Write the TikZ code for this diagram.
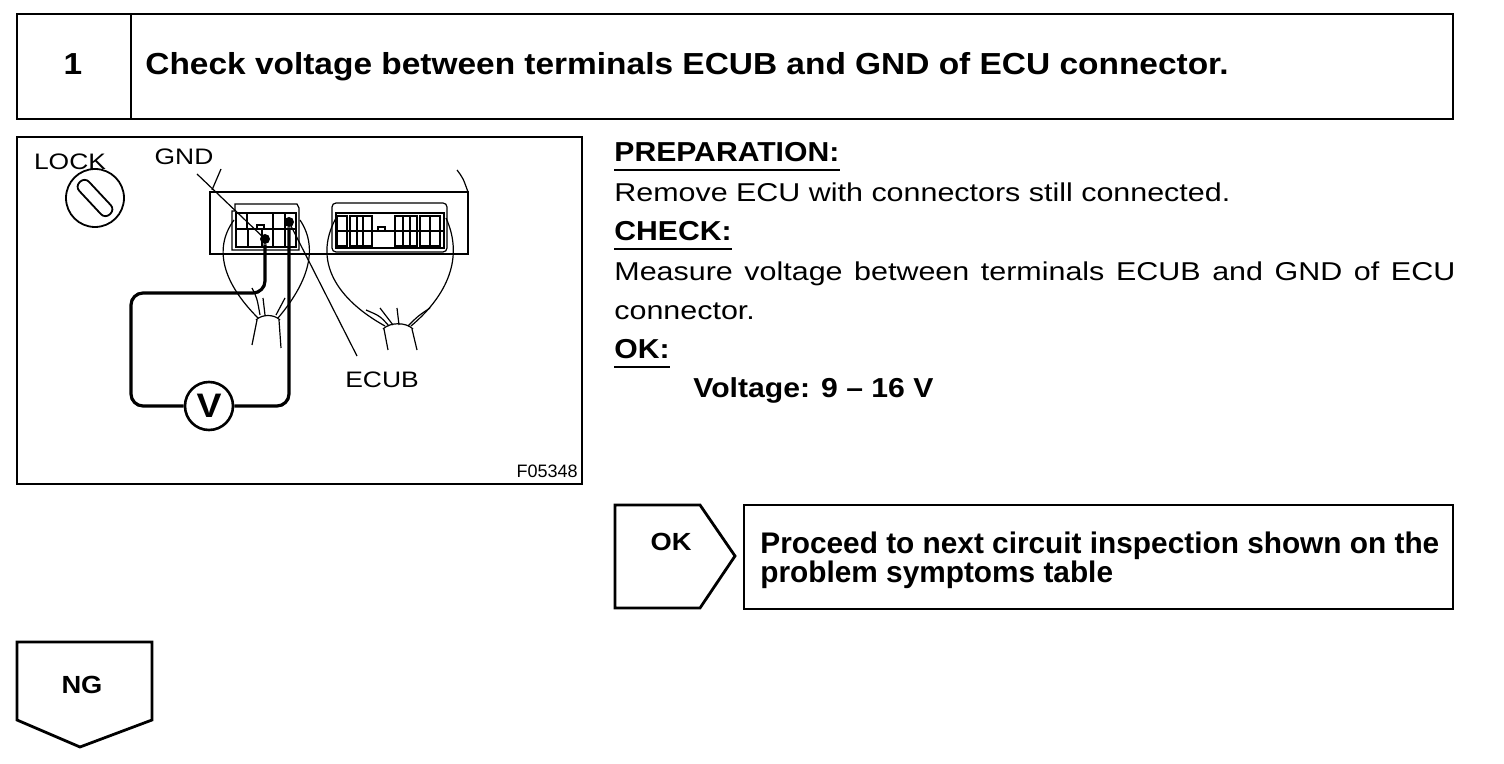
\documentclass[tikz,border=0pt]{standalone}
\usepackage{fontspec}
\setmainfont{Liberation Sans}
\newfontfamily\widefont[FakeStretch=1.18]{Liberation Sans}
\newfontfamily\headfont[FakeStretch=1.1]{Liberation Sans}

\begin{document}
\begin{tikzpicture}[x=0.5pt,y=-0.5pt,
   frame/.style={draw,line width=1.4pt},
   box/.style={frame,inner sep=0pt,outer sep=0pt,anchor=north west},
   txt/.style={inner sep=0pt,anchor=base west,font=\widefont\fontsize{12.9}{15}\selectfont},
   head/.style={inner sep=0pt,anchor=base west,font=\headfont\bfseries\fontsize{#1}{#1}\selectfont},
   head/.default=13.7,
   lbl/.style={inner sep=0pt,anchor=base,font=\widefont\fontsize{11.2}{12}\selectfont},
   thin/.style={line width=0.6pt},
   wire/.style={line width=1.6pt,rounded corners=6pt},
   uline/.style={line width=0.9pt},
   pin/.style={circle,fill,inner sep=0pt,minimum size=5pt}]
   \useasboundingbox (0,0) rectangle (1504,764);
   % step header
   \node[box,minimum width=57pt,minimum height=52.5pt] (num) at (17,14) {};
   \node[box,minimum width=661pt,minimum height=52.5pt] (title) at (num.north east) {};
   \node[head=15.2,anchor=base] (numtxt) at (73,75) {1};
   \node[head=15.2] (titletxt) at (145,75) {Check voltage between terminals ECUB and GND of ECU connector.};
   % illustration
   \node[box,line width=1.2pt,minimum width=282.5pt,minimum height=173.5pt] (fig) at (17,137) {};
   \node[circle,draw,line width=0.9pt,minimum size=29pt] (lock) at (95,198) {};
   \node[draw,line width=0.9pt,rounded corners=3pt,minimum width=22pt,minimum height=6pt,rotate=-47] (key) at (lock) {};
   \node[lbl] (locklbl) at (70,170) {LOCK};
   \node[lbl] (gndlbl) at (184,165) {GND};
   \node[lbl] (ecublbl) at (382,387) {ECUB};
   \node[inner sep=0pt,anchor=base east,font=\fontsize{9}{9}\selectfont] (figno) at (578,477) {F05348};
   % ECU body
   \draw[thin] (210,192) rectangle (468,254);
   \draw[thin] (212,190) -- (221,169);
   \draw[thin] (457,170) .. controls (463,178) .. (468,192);
   % left connector
   \draw[thin] (235,204) -- (297,204) -- (299,208) -- (299,250) -- (232,250) -- (232,211) -- (235,211) -- cycle;
   \draw[thin] (236,213) rectangle (296,247);
   \draw[thin] (236,229) -- (296,229);
   \foreach \x in {248,262,273,285} \draw[thin] (\x,229) -- (\x,247);
   \foreach \x in {247,273,285} \draw[thin] (\x,213) -- (\x,229);
   \draw[thin] (257,225) rectangle (264,229);
   % right connector
   \draw[thin,rounded corners=2pt] (332,252) -- (332,203) -- (447,203) -- (447,252) -- cycle;
   \draw[thin] (336,213) rectangle (444,248);
   \foreach \a/\b in {337/347,350/372,395/417,420/440} \draw[thin] (\a,216) rectangle (\b,246);
   \foreach \x in {357,363,403,410,430} \draw[thin] (\x,216) -- (\x,246);
   \draw[thin] (336,231) -- (444,231);
   \draw[thin] (378,227) rectangle (385,231);
   % harnesses
   \draw[thin] (234,220) .. controls (212,250) and (225,285) .. (258,318);
   \draw[thin] (300,220) .. controls (320,250) and (306,285) .. (278,318);
   \draw[thin] (256,320) .. controls (262,314) and (274,314) .. (280,320);
   \draw[thin] (257,320) -- (252,345);
   \draw[thin] (279,320) -- (281,348);
   \draw[thin] (252,288) .. controls (257,298) .. (260,315);
   \draw[thin] (263,298) -- (265,315);
   \draw[thin] (285,298) -- (276,315);
   \draw[thin] (336,218) .. controls (312,262) and (338,300) .. (385,326);
   \draw[thin] (446,218) .. controls (466,262) and (442,300) .. (411,326);
   \draw[thin] (383,329) .. controls (390,322) and (406,322) .. (413,329);
   \draw[thin] (384,329) -- (388,350);
   \draw[thin] (412,329) -- (417,350);
   \draw[thin] (366,310) .. controls (380,316) .. (389,326);
   \draw[thin] (380,308) -- (393,325);
   \draw[thin] (397,308) -- (399,325);
   \draw[thin] (430,308) .. controls (418,316) .. (408,326);
   % tester
   \node[circle,draw,line width=1.3pt,minimum size=24pt,inner sep=0pt,font=\headfont\bfseries\fontsize{17}{17}\selectfont] (meter) at (209,406) {V};
   \node[pin] (gnd) at (265,239) {};
   \node[pin] (ecub) at (289,222) {};
   \draw[wire] (gnd) |- (131,293) |- (meter);
   \draw[wire] (ecub) |- (meter);
   \coordinate (gndtip) at (197,174);
   \coordinate (ecubtip) at (357,356);
   \draw[thin] (gndtip) -- (gnd.center);
   \draw[thin] (ecub.center) -- (ecubtip);
   % procedure text
   \node[head] (prep) at (614,162) {PREPARATION:};
   \draw[uline] ([yshift=-4pt]prep.base west) -- ([yshift=-4pt]prep.base east);
   \node[txt] (remove) at (614,202) {Remove ECU with connectors still connected.};
   \node[head] (check) at (614,241) {CHECK:};
   \draw[uline] ([yshift=-4pt]check.base west) -- ([yshift=-4pt]check.base east);
   \node[txt] (measure) at (614,281) {\makebox[420.5pt][s]{Measure voltage between terminals ECUB and GND of ECU}};
   \node[txt] (conn) at (614,320) {connector.};
   \node[head] (ok) at (614,359) {OK:};
   \draw[uline] ([yshift=-4pt]ok.base west) -- ([yshift=-4pt]ok.base east);
   \node[head] (volt) at (693,398) {Voltage: 9 – 16 V};
   % OK branch
   \draw[frame] (615,505) -- (700,505) -- (735,556) -- (700,608) -- (615,608) -- cycle;
   \node[head=12.4,anchor=base] (oktag) at (671,550) {OK};
   \node[box,minimum width=354.5pt,minimum height=52pt] (next) at (744,505) {};
   \node[inner sep=0pt,anchor=base west,font=\bfseries\fontsize{14.9}{15}\selectfont] (next1) at (760,553) {Proceed to next circuit inspection shown on the};
   \node[inner sep=0pt,anchor=base west,font=\bfseries\fontsize{14.9}{15}\selectfont] (next2) at (760,582) {problem symptoms table};
   % NG branch
   \draw[frame] (17,642) -- (152,642) -- (152,720) -- (80,747) -- (17,720) -- cycle;
   \node[head=12.4,anchor=base] (ng) at (82,693) {NG};
\end{tikzpicture}
\end{document}
